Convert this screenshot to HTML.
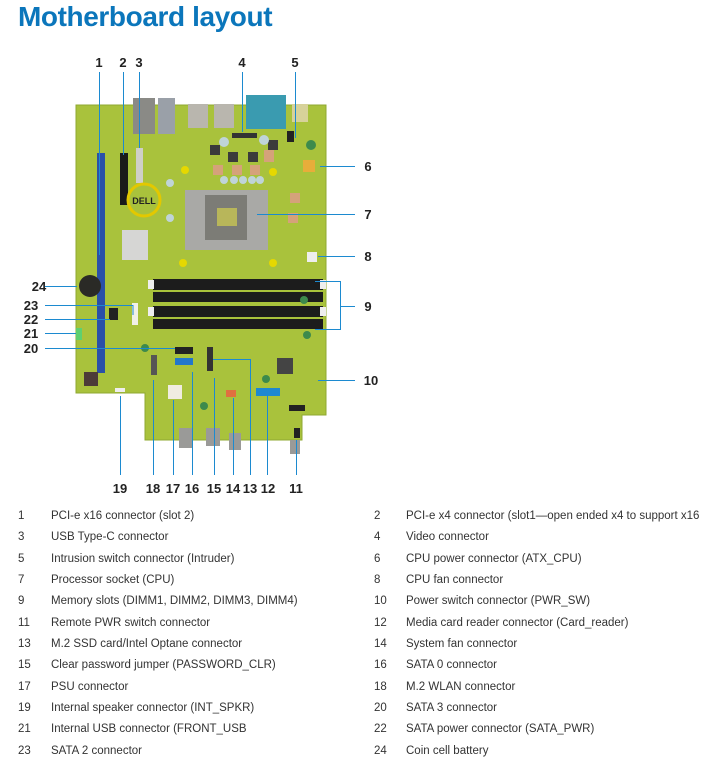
<!DOCTYPE html>
<html><head><meta charset="utf-8"><style>
html,body{margin:0;padding:0;background:#fff;width:702px;height:768px;overflow:hidden;font-family:"Liberation Sans",sans-serif}
.t{position:absolute;left:18px;top:1px;font-size:28px;font-weight:bold;color:#0b76bb;letter-spacing:-0.4px}
.lg{position:absolute;font-size:11.5px;color:#333;white-space:nowrap;line-height:14px}
</style></head><body>
<div class="t">Motherboard layout</div>
<svg width="702" height="500" style="position:absolute;left:0;top:0" xmlns="http://www.w3.org/2000/svg">
<!-- board -->
<polygon points="76,105 326,105 326,415 302,415 302,440 145,440 145,393 76,393" fill="#a9c23c" stroke="#8fa832" stroke-width="1"/>
<!-- rear IO -->
<rect x="133" y="98" width="22" height="36" fill="#8a8a86"/>
<rect x="158" y="98" width="17" height="36" fill="#9aa0a8"/>
<rect x="188" y="104" width="20" height="24" fill="#b9b6ae"/>
<rect x="214" y="104" width="20" height="24" fill="#b9b6ae"/>
<rect x="246" y="95" width="40" height="34" fill="#3a9bb0"/>
<rect x="292" y="104" width="16" height="18" fill="#d7d29a"/>
<!-- PCIe slots -->
<rect x="97" y="153" width="8" height="220" fill="#2a50a8"/>
<rect x="120" y="153" width="8" height="52" fill="#1a1a1a"/>
<rect x="136" y="148" width="7" height="35" fill="#cfcfc8"/>
<!-- dell logo -->
<circle cx="144" cy="200" r="16" fill="none" stroke="#e3c800" stroke-width="3"/>
<text x="144" y="204" font-size="9" font-weight="bold" text-anchor="middle" fill="#222">DELL</text>
<!-- heatsink -->
<rect x="122" y="230" width="26" height="30" fill="#d6d6d4"/>
<!-- CPU socket -->
<rect x="185" y="190" width="83" height="60" fill="#a9a9a6"/>
<rect x="205" y="195" width="42" height="45" fill="#7c7c76"/>
<rect x="217" y="208" width="20" height="18" fill="#b8b65a"/>
<g fill="#3b3b3b"><rect x="210" y="145" width="10" height="10"/><rect x="228" y="152" width="10" height="10"/><rect x="248" y="152" width="10" height="10"/><rect x="268" y="140" width="10" height="10"/></g>
<g fill="#d5a27a"><rect x="213" y="165" width="10" height="10"/><rect x="232" y="165" width="10" height="10"/><rect x="250" y="165" width="10" height="10"/><rect x="264" y="150" width="10" height="12"/><rect x="290" y="193" width="10" height="10"/><rect x="288" y="213" width="10" height="10"/></g>
<g fill="#bfd4d8"><circle cx="224" cy="180" r="4"/><circle cx="234" cy="180" r="4"/><circle cx="243" cy="180" r="4"/><circle cx="252" cy="180" r="4"/><circle cx="260" cy="180" r="4"/><circle cx="224" cy="142" r="5"/><circle cx="264" cy="140" r="5"/><circle cx="170" cy="183" r="4"/><circle cx="170" cy="218" r="4"/></g>
<rect x="303" y="160" width="12" height="12" fill="#e8ad3a"/>
<rect x="307" y="252" width="10" height="10" fill="#eee"/>
<rect x="287" y="131" width="7" height="11" fill="#222"/>
<rect x="232" y="133" width="25" height="5" fill="#333"/>
<circle cx="90" cy="286" r="11" fill="#2a2a26"/>
<!-- DIMMs -->
<rect x="153" y="279" width="170" height="11" fill="#1c1c1c"/>
<rect x="153" y="292" width="170" height="10" fill="#1c1c1c"/>
<rect x="153" y="306" width="170" height="11" fill="#1c1c1c"/>
<rect x="153" y="319" width="170" height="10" fill="#1c1c1c"/>
<g fill="#eee"><rect x="148" y="280" width="6" height="9"/><rect x="148" y="307" width="6" height="9"/><rect x="320" y="280" width="6" height="9"/><rect x="320" y="307" width="6" height="9"/></g>
<rect x="132" y="303" width="6" height="22" fill="#f0f0e8"/>
<rect x="175" y="347" width="18" height="7" fill="#222"/>
<rect x="175" y="358" width="18" height="7" fill="#2277cc"/>
<rect x="207" y="347" width="6" height="24" fill="#333"/>
<rect x="151" y="355" width="6" height="20" fill="#555"/>
<rect x="109" y="308" width="9" height="12" fill="#222"/>
<rect x="76" y="328" width="6" height="12" fill="#5fd070"/>
<rect x="84" y="372" width="14" height="14" fill="#4c3c38"/>
<rect x="277" y="358" width="16" height="16" fill="#444"/>
<rect x="168" y="385" width="14" height="14" fill="#f0ece0"/>
<rect x="226" y="390" width="10" height="7" fill="#e07040"/>
<rect x="256" y="388" width="24" height="8" fill="#1e88d0"/>
<rect x="115" y="388" width="10" height="4" fill="#eee"/>
<rect x="289" y="405" width="16" height="6" fill="#222"/>
<rect x="294" y="428" width="6" height="10" fill="#222"/>
<g fill="#9a9a98"><rect x="179" y="428" width="14" height="20"/><rect x="206" y="428" width="14" height="18"/><rect x="229" y="433" width="12" height="17"/><rect x="290" y="440" width="10" height="14"/></g>
<g fill="#e6d800"><circle cx="185" cy="170" r="4"/><circle cx="273" cy="172" r="4"/><circle cx="183" cy="263" r="4"/><circle cx="273" cy="263" r="4"/></g>
<g fill="#3d8a4c"><circle cx="311" cy="145" r="5"/><circle cx="145" cy="348" r="4"/><circle cx="304" cy="300" r="4"/><circle cx="307" cy="335" r="4"/><circle cx="266" cy="379" r="4"/><circle cx="204" cy="406" r="4"/></g>
<!-- callouts -->
<g stroke="#1c8ad0" stroke-width="1" fill="none">
<path d="M99.5 72V255M123.5 72V155M139.5 72V148M242.5 72V132M295.5 72V138"/>
<path d="M320 166.5H355M257 214.5H355M318 256.5H355"/>
<path d="M315 281.5H340.5V329.5H315M340 306.5H355"/>
<path d="M318 380.5H355"/>
<path d="M45 286.5H77M45 305.5H133V315M45 319.5H110M45 333.5H76M45 348.5H175"/>
<path d="M120.5 396V475M153.5 380V475M173.5 400V475M192.5 372V475M214.5 378V475M233.5 398V475M213 359.5H250.5V475M267.5 396V475M296.5 440V475"/>
</g>
<g font-size="13" font-weight="bold" fill="#222" text-anchor="middle">
<text x="99" y="67">1</text><text x="123" y="67">2</text><text x="139" y="67">3</text><text x="242" y="67">4</text><text x="295" y="67">5</text>
<text x="368" y="171">6</text><text x="368" y="219">7</text><text x="368" y="261">8</text><text x="368" y="311">9</text><text x="371" y="385">10</text>
<text x="39" y="291">24</text><text x="31" y="310">23</text><text x="31" y="324">22</text><text x="31" y="338">21</text><text x="31" y="353">20</text>
<text x="120" y="493">19</text><text x="153" y="493">18</text><text x="173" y="493">17</text><text x="192" y="493">16</text><text x="214" y="493">15</text><text x="233" y="493">14</text><text x="250" y="493">13</text><text x="268" y="493">12</text><text x="296" y="493">11</text>
</g>
</svg>
<div class="lg" style="left:18px;top:509px">1</div><div class="lg" style="left:51px;top:509px">PCI-e x16 connector (slot 2)</div>
<div class="lg" style="left:374px;top:509px">2</div><div class="lg" style="left:406px;top:509px">PCI-e x4 connector (slot1—open ended x4 to support x16</div>
<div class="lg" style="left:18px;top:530px">3</div><div class="lg" style="left:51px;top:530px">USB Type-C connector</div>
<div class="lg" style="left:374px;top:530px">4</div><div class="lg" style="left:406px;top:530px">Video connector</div>
<div class="lg" style="left:18px;top:552px">5</div><div class="lg" style="left:51px;top:552px">Intrusion switch connector (Intruder)</div>
<div class="lg" style="left:374px;top:552px">6</div><div class="lg" style="left:406px;top:552px">CPU power connector (ATX_CPU)</div>
<div class="lg" style="left:18px;top:573px">7</div><div class="lg" style="left:51px;top:573px">Processor socket (CPU)</div>
<div class="lg" style="left:374px;top:573px">8</div><div class="lg" style="left:406px;top:573px">CPU fan connector</div>
<div class="lg" style="left:18px;top:594px">9</div><div class="lg" style="left:51px;top:594px">Memory slots (DIMM1, DIMM2, DIMM3, DIMM4)</div>
<div class="lg" style="left:374px;top:594px">10</div><div class="lg" style="left:406px;top:594px">Power switch connector (PWR_SW)</div>
<div class="lg" style="left:18px;top:616px">11</div><div class="lg" style="left:51px;top:616px">Remote PWR switch connector</div>
<div class="lg" style="left:374px;top:616px">12</div><div class="lg" style="left:406px;top:616px">Media card reader connector (Card_reader)</div>
<div class="lg" style="left:18px;top:637px">13</div><div class="lg" style="left:51px;top:637px">M.2 SSD card/Intel Optane connector</div>
<div class="lg" style="left:374px;top:637px">14</div><div class="lg" style="left:406px;top:637px">System fan connector</div>
<div class="lg" style="left:18px;top:658px">15</div><div class="lg" style="left:51px;top:658px">Clear password jumper (PASSWORD_CLR)</div>
<div class="lg" style="left:374px;top:658px">16</div><div class="lg" style="left:406px;top:658px">SATA 0 connector</div>
<div class="lg" style="left:18px;top:680px">17</div><div class="lg" style="left:51px;top:680px">PSU connector</div>
<div class="lg" style="left:374px;top:680px">18</div><div class="lg" style="left:406px;top:680px">M.2 WLAN connector</div>
<div class="lg" style="left:18px;top:701px">19</div><div class="lg" style="left:51px;top:701px">Internal speaker connector (INT_SPKR)</div>
<div class="lg" style="left:374px;top:701px">20</div><div class="lg" style="left:406px;top:701px">SATA 3 connector</div>
<div class="lg" style="left:18px;top:722px">21</div><div class="lg" style="left:51px;top:722px">Internal USB connector (FRONT_USB</div>
<div class="lg" style="left:374px;top:722px">22</div><div class="lg" style="left:406px;top:722px">SATA power connector (SATA_PWR)</div>
<div class="lg" style="left:18px;top:744px">23</div><div class="lg" style="left:51px;top:744px">SATA 2 connector</div>
<div class="lg" style="left:374px;top:744px">24</div><div class="lg" style="left:406px;top:744px">Coin cell battery</div>
</body></html>
